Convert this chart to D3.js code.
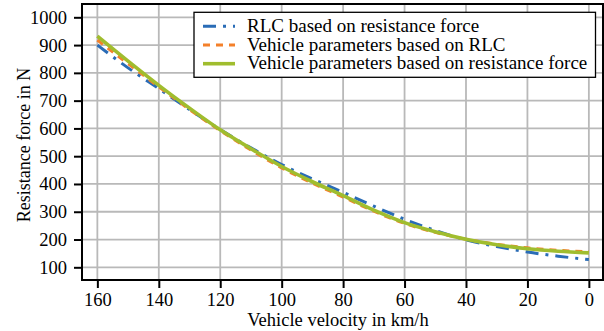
<!DOCTYPE html>
<html>
<head>
<meta charset="utf-8">
<script src="https://cdn.jsdelivr.net/npm/d3@7/dist/d3.min.js"></script>
<style>
  html, body { margin: 0; padding: 0; background: #fff; }
  svg { display: block; }
</style>
</head>
<body>
<svg id="chart" width="604" height="331"></svg>
<script>
// Vehicle velocity samples (km/h)
const velocity = [160, 150, 140, 130, 120, 110, 100, 90, 80, 70, 60, 50, 40, 30, 20, 10, 0];

// Resistance force (N) for each approach
const rlcFromForce      = [900, 818, 743, 668, 596, 530, 470, 418, 370, 320, 273, 233, 199, 175, 155, 140, 128];
const paramsFromRlc     = [918, 833, 750, 668, 592, 522, 458, 403, 353, 302, 258, 226, 201, 183, 170, 161, 156];
const paramsFromForce   = [932, 842, 755, 673, 595, 527, 463, 408, 358, 306, 261, 228, 201, 181, 167, 158, 152];

const seriesNames = [
  "RLC based on resistance force",
  "Vehicle parameters based on RLC",
  "Vehicle parameters based on resistance force"
];
const seriesColors = ["#2a6cb6", "#f4802a", "#a0bd2e"];
const seriesDash   = ["13,7,3,7", "7,6", null];
const seriesWidth  = [3, 3, 3.6];

const xTicks = [160, 140, 120, 100, 80, 60, 40, 20, 0];
const yTicks = [100, 200, 300, 400, 500, 600, 700, 800, 900, 1000];

const FONT = "'Liberation Serif', 'Times New Roman', serif";
const plot = { left: 82, right: 603, top: 4, bottom: 280 };

const svg = d3.select("#chart");

const x = d3.scaleLinear().domain([165, -4.6]).range([plot.left, plot.right]);
const y = d3.scaleLinear().domain([54.3, 1047.9]).range([plot.bottom, plot.top]);

// grid
const grid = svg.append("g");
grid.selectAll("line.gx").data(xTicks).join("line")
  .attr("x1", d => x(d)).attr("x2", d => x(d))
  .attr("y1", plot.top).attr("y2", plot.bottom)
  .attr("stroke", "#b9b9b9").attr("stroke-width", 1.8);
grid.selectAll("line.gy").data(yTicks).join("line")
  .attr("y1", d => y(d)).attr("y2", d => y(d))
  .attr("x1", plot.left).attr("x2", plot.right)
  .attr("stroke", "#b9b9b9").attr("stroke-width", 1.8);

// series
const allSeries = [rlcFromForce, paramsFromRlc, paramsFromForce];
const line = d3.line()
  .x(d => x(d[0]))
  .y(d => y(d[1]))
  .curve(d3.curveMonotoneX);

svg.append("defs").append("clipPath").attr("id", "clip")
  .append("rect").attr("x", plot.left).attr("y", plot.top)
  .attr("width", plot.right - plot.left).attr("height", plot.bottom - plot.top);

const lines = svg.append("g").attr("clip-path", "url(#clip)");
allSeries.forEach((vals, i) => {
  const pts = velocity.map((v, j) => [v, vals[j]]);
  lines.append("path")
    .attr("d", line(pts))
    .attr("fill", "none")
    .attr("stroke", seriesColors[i])
    .attr("stroke-width", seriesWidth[i])
    .attr("stroke-dasharray", seriesDash[i])
    .attr("stroke-linejoin", "round");
});

// axes
const xAxis = d3.axisBottom(x).tickValues(xTicks).tickSize(8).tickPadding(4.5).tickFormat(d3.format("d"));
const yAxis = d3.axisLeft(y).tickValues(yTicks).tickSize(8).tickPadding(7).tickFormat(d3.format("d"));

const gx = svg.append("g").attr("transform", `translate(0,${plot.bottom})`).call(xAxis);
const gy = svg.append("g").attr("transform", `translate(${plot.left},0)`).call(yAxis);
[gx, gy].forEach(g => {
  g.select(".domain").remove();
  g.selectAll(".tick line").attr("stroke", "#000").attr("stroke-width", 2);
  g.selectAll(".tick text")
    .style("font-family", FONT).style("font-size", "18.5px").attr("fill", "#000");
});

// frame
svg.append("rect")
  .attr("x", plot.left).attr("y", plot.top)
  .attr("width", plot.right - plot.left).attr("height", plot.bottom - plot.top)
  .attr("fill", "none").attr("stroke", "#000").attr("stroke-width", 2);

// axis titles
svg.append("text")
  .attr("x", 338).attr("y", 325.5)
  .attr("text-anchor", "middle")
  .style("font-family", FONT).style("font-size", "18.5px")
  .text("Vehicle velocity in km/h");
svg.append("text")
  .attr("transform", "translate(29.5,145) rotate(-90)")
  .attr("text-anchor", "middle")
  .style("font-family", FONT).style("font-size", "18px")
  .text("Resistance force in N");

// legend
const lg = svg.append("g");
lg.append("rect")
  .attr("x", 194).attr("y", 12.3).attr("width", 401.5).attr("height", 65)
  .attr("fill", "#fff").attr("stroke", "#000").attr("stroke-width", 1.3);
seriesNames.forEach((name, i) => {
  const cy = 26.3 + i * 18.7;
  lg.append("line")
    .attr("x1", 203).attr("x2", 235).attr("y1", cy).attr("y2", cy)
    .attr("stroke", seriesColors[i]).attr("stroke-width", seriesWidth[i])
    .attr("stroke-dasharray", seriesDash[i]);
  lg.append("text")
    .attr("x", 247).attr("y", cy + 5.6)
    .style("font-family", FONT).style("font-size", "19px")
    .text(name);
});
</script>
</body>
</html>
